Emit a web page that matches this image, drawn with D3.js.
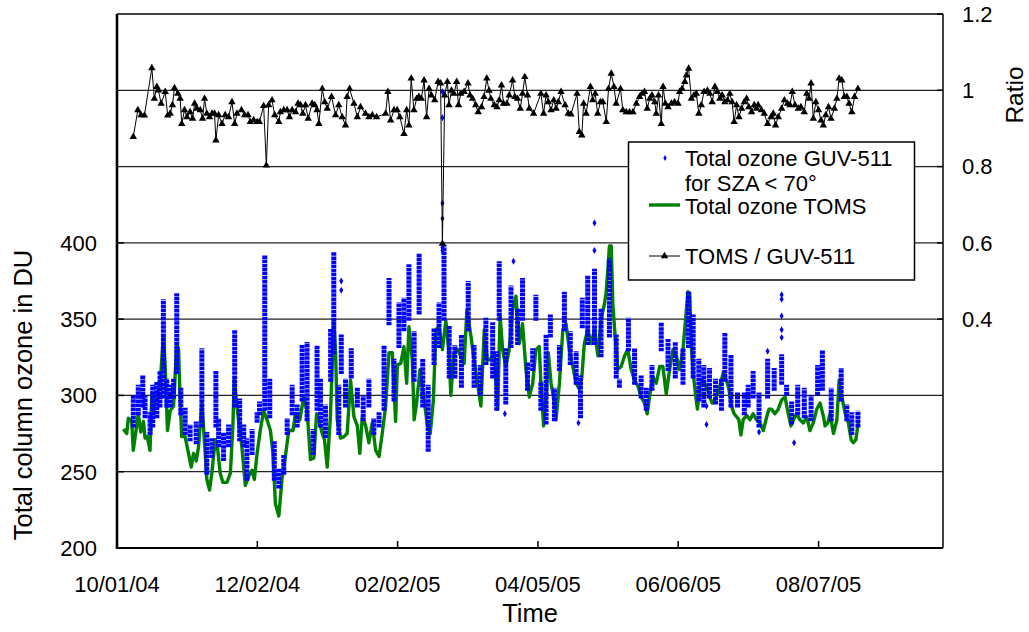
<!DOCTYPE html>
<html><head><meta charset="utf-8">
<script src="https://cdn.jsdelivr.net/npm/d3@7"></script>
<style>
body{margin:0;background:#fff}
text{font-family:"Liberation Sans",Arial,sans-serif;fill:#000}
</style>
</head><body>
<svg id="c" width="1029" height="632"></svg>
<script>
// ---------- data ----------
const startDate = "10/01/04";
const endDate = "10/01/05";
const xTickLabels = ["10/01/04","12/02/04","02/02/05","04/05/05","06/06/05","08/07/05"];
const leftTicks = [200,250,300,350,400];
const rightTicks = [0.4,0.6,0.8,1,1.2];
const gridValues = [250,300,350,400,450,500];

// TOMS total ozone (day offset from 10/01/04, DU)
const tomsDay = [2.8,4.3,5.0,6.5,7.2,8.4,9.4,10.5,11.7,12.4,13.4,14.6,15.4,16.1,17.6,19.0,20.5,21.3,22.3,23.5,25.0,26.4,27.2,27.9,28.6,30.1,31.6,32.8,33.8,35.0,36.0,37.5,38.2,39.7,40.9,41.9,43.4,44.4,45.6,46.8,48.6,50.1,51.2,51.8,52.7,53.7,55.2,56.7,58.2,59.7,60.7,61.9,63.3,64.8,66.3,67.8,68.9,70.0,71.5,72.9,74.4,75.9,77.8,78.8,80.8,82.5,84.0,85.5,87.0,88.2,89.2,90.7,91.7,92.9,94.3,95.8,96.6,97.3,98.8,100.3,101.7,103.2,104.7,106.2,107.3,108.4,109.9,111.3,112.8,114.3,115.8,117.2,118.7,120.2,121.7,123.1,123.9,125.4,126.8,128.0,129.0,130.5,131.3,132.4,133.9,135.7,137.2,138.4,139.8,140.9,142.3,143.8,145.3,146.8,147.5,149.0,150.5,151.9,153.4,154.6,156.4,157.8,159.3,160.8,162.3,163.7,165.2,166.7,168.2,169.3,170.4,171.8,173.3,174.8,176.3,177.8,179.2,180.7,182.2,183.7,185.1,186.6,187.3,188.5,189.6,190.6,191.8,193.3,194.0,195.5,197.0,198.4,199.9,201.4,202.9,204.3,205.4,206.5,208.0,209.5,211.0,212.5,213.9,215.4,216.1,216.9,217.6,218.4,219.1,220.1,221.3,222.8,224.3,225.7,227.2,228.7,230.2,231.6,233.1,234.3,235.3,236.8,238.3,239.8,241.2,242.7,244.2,245.7,247.1,248.6,250.1,251.6,252.3,253.1,253.8,254.6,255.6,256.5,257.5,258.6,259.7,260.9,261.9,263.0,264.2,265.3,266.4,267.9,269.3,270.4,271.5,272.7,273.8,274.8,275.7,276.7,278.2,279.7,281.1,282.6,284.1,285.6,287.1,288.1,289.3,290.7,292.2,293.7,295.2,296.6,297.8,298.9,300.3,301.8,303.3,304.8,306.2,307.7,309.2,310.7,312.2,312.9,314.1,315.1,316.6,318.1,319.1,320.3,321.8,323.2,324.4,325.4,326.5,327.7];
const tomsVal = [278,275,285,283,264,277,288,276,283,272,273,264,302,288,301,306,339,319,277,290,293,334,330,297,273,273,262,253,262,257,266,295,280,245,238,249,271,266,249,243,243,249,280,310,297,284,266,241,247,251,245,262,277,290,284,277,262,229,221,245,260,277,277,288,284,299,290,258,259,288,284,275,271,253,286,349,328,284,272,273,275,310,286,280,262,286,280,269,282,264,260,275,293,328,328,283,320,321,332,308,345,323,284,295,317,297,280,275,297,343,345,330,349,328,300,328,330,326,321,356,339,323,308,293,343,323,324,328,291,352,330,319,330,356,365,334,347,317,299,308,330,332,308,280,299,328,308,295,284,308,343,347,330,319,308,304,312,334,343,334,343,326,350,360,367,382,398,398,360,339,317,319,326,330,317,310,306,299,295,288,299,312,308,319,319,301,317,330,326,317,330,356,368,367,332,315,301,291,306,310,308,304,299,295,297,301,306,315,310,304,293,288,286,284,274,284,287,284,288,284,282,277,286,291,291,288,291,297,299,288,280,284,288,284,282,286,277,282,291,295,286,280,282,288,275,284,310,299,288,282,271,269,271,284];

// GUV-511 total ozone: daily columns of measurements (day offset, lowest, highest DU)
const guvDay  = [7.2,9.4,11.4,12.4,14.6,15.8,17.6,19.0,20.5,22.0,23.5,25.0,26.4,28.2,30.1,32.3,35.0,37.5,39.7,41.9,43.7,44.9,47.1,49.3,52.0,54.2,56.0,57.4,59.7,61.9,63.0,65.3,67.5,69.5,71.5,73.7,75.2,77.4,79.6,81.8,84.0,86.7,88.4,89.9,92.1,94.4,95.8,98.0,99.1,101.0,103.5,106.2,108.8,111.3,113.5,115.8,118.0,120.2,122.4,124.6,126.8,129.0,131.3,133.5,135.1,137.5,140.1,142.3,144.5,146.8,149.3,152.2,155.2,157.8,160.5,163.0,166.0,167.8,168.9,171.8,174.1,177.0,179.2,181.4,183.7,185.1,187.3,189.6,191.5,193.3,195.5,197.7,200.3,202.9,204.8,205.6,208.0,211.0,213.9,217.6,220.6,222.0,226.0,228.7,231.6,233.9,236.4,240.5,243.5,246.7,250.1,252.5,254.6,257.1,259.3,261.8,264.5,267.1,268.6,271.3,274.2,277.2,278.9,281.1,283.7,287.5,290.4,293.7,295.9,298.1,300.8,303.7,306.7,309.6,311.7,315.6,320.0,322.5,324.7,327.4];
const guvLow  = [280,288,293,286,275,280,286,293,299,293,293,299,315,288,275,271,269,280,249,260,280,267,258,267,293,271,267,245,262,283,288,291,286,245,240,249,275,288,280,297,284,262,291,280,273,310,328,275,315,293,312,293,284,293,275,280,291,347,297,332,343,350,310,354,293,264,321,332,350,312,312,306,343,306,301,321,312,291,350,295,332,334,350,304,317,350,291,282,339,284,317,343,321,308,286,345,334,334,326,339,312,306,330,308,299,291,304,330,317,312,308,332,312,297,293,299,295,291,310,293,293,288,293,299,280,299,304,308,301,282,288,286,284,301,304,284,297,284,275,280];
const guvHigh = [299,306,312,299,288,306,308,315,362,310,306,310,366,304,291,280,282,330,275,271,315,284,275,280,342,297,280,271,277,288,295,391,310,269,251,260,284,306,293,332,334,277,332,310,293,343,393,306,339,310,330,304,299,310,284,288,332,376,323,360,363,385,341,392,323,306,343,360,398,345,332,339,374,332,319,350,347,328,387,330,371,356,376,321,330,365,308,339,352,304,332,367,341,328,312,363,378,382,356,389,339,310,350,330,312,304,319,347,336,334,330,367,352,323,319,317,310,310,340,326,301,301,306,315,301,323,317,326,306,295,306,304,299,319,329,304,317,293,288,289];
// isolated GUV-511 values
const guvOutDay = [99.1,99.1,143.8,143.8,143.8,143.8,143.8,143.8,171.4,175.2,203.9,211.0,211.0,260.5,260.5,283.7,287.5,293.7,293.7,293.7,293.7,293.7,299.2];
const guvOutVal = [375,369,499,482,426,416,397,395,288,388,282,413,395,293,281,276,329,366,363,352,343,338,269];

// TOMS / GUV-511 ratio
const ratioDay = [7.2,9.2,10.6,12.1,15.4,16.5,17.6,18.3,19.5,21.3,22.4,23.5,24.5,25.4,26.9,27.9,28.6,29.8,30.9,32.3,33.4,34.3,35.3,36.8,37.8,38.7,39.7,40.9,42.0,43.1,43.7,44.9,46.4,47.8,49.3,50.8,52.0,53.0,55.0,56.4,57.9,58.9,60.4,61.9,62.9,64.8,66.0,67.0,68.5,69.7,71.5,72.2,73.7,75.2,76.2,77.4,78.9,80.0,81.1,82.1,83.3,84.5,86.2,87.4,88.4,89.2,90.7,91.8,92.9,94.8,96.6,98.0,99.5,101.0,101.7,102.8,104.7,106.2,107.6,109.8,111.3,112.8,114.7,118.7,119.7,120.9,122.4,123.8,125.0,126.8,128.0,129.0,130.0,131.2,132.4,133.4,134.5,135.7,136.8,137.9,138.9,140.4,141.9,143.0,143.8,144.8,146.0,146.7,147.8,148.9,150.1,150.9,151.9,153.4,155.1,156.0,157.1,158.5,159.6,161.1,162.2,163.4,164.4,165.2,166.7,167.9,168.9,169.9,170.8,172.3,173.3,174.8,175.8,177.0,178.2,179.2,180.2,181.4,182.2,184.1,187.3,188.5,189.6,190.6,191.8,193.0,194.0,195.0,196.2,198.0,199.4,200.6,203.3,204.3,205.4,206.2,207.3,209.2,210.2,211.3,212.4,213.6,214.7,216.2,217.2,218.4,219.6,220.6,222.5,223.5,225.0,226.5,228.0,229.5,230.9,232.0,233.1,234.3,235.4,236.4,237.6,238.3,239.3,240.5,241.3,242.3,243.5,245.0,246.4,247.9,248.6,249.7,250.9,251.6,252.6,253.8,255.0,256.0,257.1,258.2,259.4,260.9,262.0,263.0,264.2,265.3,266.4,267.4,268.6,269.8,270.8,271.8,272.7,273.8,274.8,276.0,277.2,278.2,279.2,280.4,281.6,282.6,283.3,284.8,286.0,287.5,289.0,290.0,291.0,292.2,293.7,294.9,296.3,297.4,298.4,299.6,301.1,302.2,303.7,304.8,305.8,306.7,307.7,308.8,310.0,311.1,312.1,313.2,314.4,315.5,317.0,318.1,319.1,320.3,321.4,322.5,323.5,324.7,325.9,327.4];
const ratioVal = [0.878,0.948,0.935,0.934,1.058,0.978,1.009,1.000,0.965,0.996,0.934,0.939,0.961,1.006,0.991,0.978,0.912,0.948,0.930,0.943,0.926,0.965,0.952,0.948,0.926,0.978,0.939,0.930,0.939,0.939,0.869,0.935,0.912,0.935,0.930,0.969,0.912,0.939,0.948,0.935,0.935,0.917,0.922,0.917,0.917,0.959,0.803,0.961,0.974,0.935,0.917,0.943,0.948,0.948,0.930,0.948,0.943,0.965,0.961,0.939,0.961,0.926,0.965,0.961,0.948,0.912,1.004,0.969,0.952,0.983,0.935,0.961,0.930,0.908,0.983,1.004,0.965,0.930,0.956,0.939,0.930,0.935,0.930,0.939,0.996,0.921,0.948,0.948,0.930,0.886,0.948,0.908,1.031,0.948,0.978,0.983,0.978,1.026,0.930,1.004,0.987,0.974,1.022,1.018,0.598,0.987,1.022,0.961,0.999,0.991,1.022,0.961,0.991,0.996,1.018,0.987,0.978,0.961,0.943,0.956,0.983,1.031,0.999,0.978,0.961,0.956,0.974,1.013,0.965,0.965,0.987,1.026,0.983,0.978,0.952,0.991,1.035,0.987,0.952,0.939,0.991,0.939,0.987,0.969,0.948,0.974,0.952,0.969,0.996,0.961,0.939,0.937,0.991,0.891,0.882,0.965,0.939,1.009,0.974,0.991,0.939,0.969,0.969,0.917,1.004,1.044,1.009,0.965,1.004,0.948,0.943,0.943,0.943,0.965,0.983,0.991,0.996,0.952,0.978,0.987,0.969,0.939,0.987,0.912,1.009,0.965,0.956,0.965,0.969,0.965,0.996,1.004,1.022,1.039,1.057,0.978,0.987,0.991,0.939,0.961,0.996,0.999,0.991,0.969,1.009,0.996,0.978,0.987,0.969,0.974,0.991,0.969,0.917,0.961,0.930,0.952,0.969,0.978,0.956,0.943,0.961,0.952,0.961,0.948,0.939,0.912,0.930,0.939,0.908,0.930,0.952,0.974,0.965,0.961,0.996,0.961,0.952,0.956,0.943,0.991,0.978,1.018,0.926,0.969,0.948,0.921,0.908,0.935,0.956,0.926,0.952,0.978,1.031,1.026,0.983,0.983,0.965,0.943,0.983,1.004];

const legendLabels = [["Total ozone GUV-511","for SZA < 70°"],["Total ozone TOMS"],["TOMS / GUV-511"]];

// ---------- drawing ----------
const parse = d3.timeParse("%m/%d/%y");
const t0 = parse(startDate);
const dayToDate = d => new Date(t0.getTime() + d * 864e5);

const L = 117, R = 943, T = 14, B = 548;
const x = d3.scaleTime().domain([t0, parse(endDate)]).range([L, R]);
const yL = d3.scaleLinear().domain([200, 550]).range([B, T]);
const yR = d3.scaleLinear().domain([-0.2, 1.2]).range([B, T]);

const svg = d3.select("#c");
const FS = 22, TFS = 25.5;

// gridlines
svg.append("g").selectAll("line").data(gridValues).join("line")
  .attr("x1", L).attr("x2", R).attr("y1", d => yL(d)).attr("y2", d => yL(d))
  .attr("stroke", "#222").attr("stroke-width", 1.2);

// TOMS line
const toms = tomsDay.map((d, i) => [dayToDate(d), tomsVal[i]]);
svg.append("path").datum(toms)
  .attr("fill", "none").attr("stroke", "#008000").attr("stroke-width", 3.4)
  .attr("stroke-linejoin", "round")
  .attr("d", d3.line().x(d => x(d[0])).y(d => yL(d[1])));

// GUV columns
const guv = guvDay.map((d, i) => ({d: dayToDate(d), lo: guvLow[i], hi: guvHigh[i]}));
svg.append("g").selectAll("line").data(guv).join("line")
  .attr("x1", d => x(d.d)).attr("x2", d => x(d.d))
  .attr("y1", d => yL(d.lo) + 1.5).attr("y2", d => yL(d.hi) - 1.5)
  .attr("stroke", "#0000ff").attr("stroke-width", 5)
  .attr("stroke-dasharray", "3.5,0.6");
const out = guvOutDay.map((d, i) => [dayToDate(d), guvOutVal[i]]);
svg.append("g").selectAll("path").data(out).join("path")
  .attr("transform", d => `translate(${x(d[0])},${yL(d[1])})`)
  .attr("d", d3.symbol(d3.symbolDiamond, 14)).attr("fill", "#0000ff");

// ratio
const ratio = ratioDay.map((d, i) => [dayToDate(d), ratioVal[i]]);
svg.append("path").datum(ratio)
  .attr("fill", "none").attr("stroke", "#000").attr("stroke-width", 1)
  .attr("d", d3.line().x(d => x(d[0])).y(d => yR(d[1])));
svg.append("g").selectAll("path").data(ratio).join("path")
  .attr("transform", d => `translate(${x(d[0])},${yR(d[1])})`)
  .attr("d", d3.symbol(d3.symbolTriangle, 24)).attr("fill", "#000");

// frame
svg.append("line").attr("x1", L).attr("x2", R).attr("y1", T).attr("y2", T).attr("stroke", "#000").attr("stroke-width", 1.5);
svg.append("line").attr("x1", R).attr("x2", R).attr("y1", T).attr("y2", B).attr("stroke", "#000").attr("stroke-width", 1.5);
svg.append("line").attr("x1", L - 1).attr("x2", R).attr("y1", B).attr("y2", B).attr("stroke", "#000").attr("stroke-width", 2.2);
svg.append("line").attr("x1", L).attr("x2", L).attr("y1", T).attr("y2", B + 1).attr("stroke", "#000").attr("stroke-width", 2.6);

// left axis ticks + labels
const gl = svg.append("g");
gl.selectAll("line").data(leftTicks).join("line")
  .attr("x1", L).attr("x2", L + 7).attr("y1", d => yL(d)).attr("y2", d => yL(d))
  .attr("stroke", "#000").attr("stroke-width", 1.5);
gl.selectAll("text").data(leftTicks).join("text")
  .attr("x", 97).attr("y", d => yL(d)).attr("dy", "0.36em")
  .attr("text-anchor", "end").attr("font-size", FS).text(d => d);

// right axis
const gr = svg.append("g");
gr.selectAll("line").data(rightTicks).join("line")
  .attr("x1", R - 6).attr("x2", R).attr("y1", d => yR(d)).attr("y2", d => yR(d))
  .attr("stroke", "#000").attr("stroke-width", 1.5);
gr.selectAll("text").data(rightTicks).join("text")
  .attr("x", 962).attr("y", d => yR(d)).attr("dy", "0.36em")
  .attr("text-anchor", "start").attr("font-size", FS).text(d => d3.format("")(d));

// x axis
const gx = svg.append("g");
const xt = xTickLabels.map(parse);
gx.selectAll("line").data(xt).join("line")
  .attr("x1", d => x(d)).attr("x2", d => x(d)).attr("y1", B).attr("y2", B - 7)
  .attr("stroke", "#000").attr("stroke-width", 1.5);
gx.selectAll("text").data(xt).join("text")
  .attr("x", d => x(d)).attr("y", 591.5).attr("text-anchor", "middle")
  .attr("font-size", FS).text((d, i) => xTickLabels[i]);

// titles
svg.append("text").attr("x", 530).attr("y", 622).attr("text-anchor", "middle").attr("font-size", TFS).text("Time");
svg.append("text").attr("transform", "translate(32,395) rotate(-90)").attr("text-anchor", "middle").attr("font-size", TFS).text("Total column ozone in DU");
svg.append("text").attr("transform", "translate(1023,95) rotate(-90)").attr("text-anchor", "middle").attr("font-size", 24.5).text("Ratio");

// legend
const lg = svg.append("g");
lg.append("rect").attr("x", 628.5).attr("y", 142).attr("width", 286).attr("height", 138)
  .attr("fill", "#fff").attr("stroke", "#000").attr("stroke-width", 1.5);
lg.append("path").attr("transform", "translate(665,158)").attr("d", d3.symbol(d3.symbolDiamond, 10)).attr("fill", "#0000ff");
lg.append("line").attr("x1", 649).attr("x2", 680).attr("y1", 205).attr("y2", 205).attr("stroke", "#008000").attr("stroke-width", 3.4);
lg.append("line").attr("x1", 649).attr("x2", 680).attr("y1", 256).attr("y2", 256).attr("stroke", "#000").attr("stroke-width", 1);
lg.append("path").attr("transform", "translate(664.5,256)").attr("d", d3.symbol(d3.symbolTriangle, 24)).attr("fill", "#000");
const legY = [[165.5, 190.5], [213.5], [263.5]];
legendLabels.forEach((lines, i) => {
  lines.forEach((s, j) => {
    lg.append("text").attr("x", 685).attr("y", legY[i][j]).attr("font-size", FS).text(s);
  });
});
</script>
</body></html>
